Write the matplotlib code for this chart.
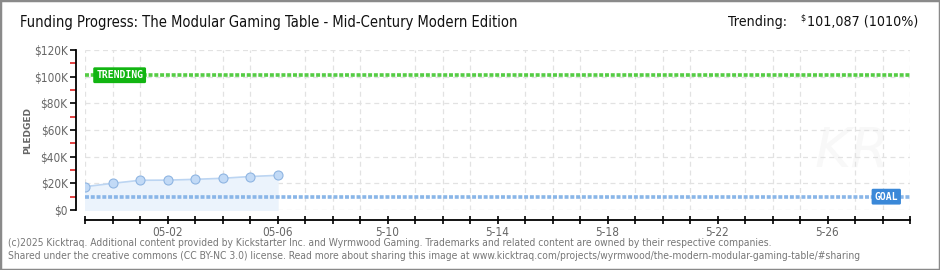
import numpy as np
import matplotlib
matplotlib.use("Agg")
import matplotlib.pyplot as plt
import matplotlib.dates as mdates
from matplotlib import font_manager
from matplotlib.patches import Rectangle
from matplotlib.ticker import MultipleLocator, FuncFormatter, FixedLocator

# datos
fechas = np.arange(np.datetime64("2025-04-29"), np.datetime64("2025-05-07"))
pledged = [17500, 20000, 22300, 22400, 23000, 23800, 25100, 26000]
goal = 10000
trending = 101087
tick_fechas = ["2025-05-02", "2025-05-06", "2025-05-10", "2025-05-14",
               "2025-05-18", "2025-05-22", "2025-05-26"]
tick_labels = ["05-02", "05-06", "5-10", "5-14", "5-18", "5-22", "5-26"]
x_ini, x_fin = np.datetime64("2025-04-29"), np.datetime64("2025-05-29")

titulo = "Funding Progress: The Modular Gaming Table - Mid-Century Modern Edition"
pie1 = ("(c)2025 Kicktraq. Additional content provided by Kickstarter Inc. and Wyrmwood Gaming. "
        "Trademarks and related content are owned by their respective companies.")
pie2 = ("Shared under the creative commons (CC BY-NC 3.0) license. Read more about sharing this image at "
        "www.kicktraq.com/projects/wyrmwood/the-modern-modular-gaming-table/#sharing")

# buscar una fuente estrecha
estirar = "normal"
fuente = ["DejaVu Sans"]
nombres = {f.name for f in font_manager.fontManager.ttflist}
if "Liberation Sans Narrow" in nombres:
    fuente = ["Liberation Sans Narrow", "DejaVu Sans"]
else:
    ruta = font_manager.findfont(font_manager.FontProperties(family="DejaVu Sans", stretch="condensed"))
    if "Condensed" in ruta:
        estirar = "condensed"
escala = 1.0 if (estirar == "condensed" or len(fuente) > 1) else 0.9

gris = "#666666"

fig = plt.figure(figsize=(9.4, 2.7), dpi=100)
fig.patches.append(Rectangle((0, 0), 1, 1, transform=fig.transFigure, fill=False,
                             edgecolor="#8a8a8a", linewidth=2.5))

ax = fig.add_axes([85 / 940, 60 / 270, 825 / 940, 160 / 270])
x = mdates.date2num(fechas.astype(object))
x0 = mdates.date2num(x_ini.astype(object))
x1 = mdates.date2num(x_fin.astype(object))

ax.fill_between(x, 0, pledged, color="#ebf3fc", zorder=1)
ax.plot(x, pledged, color="#bcd5f2", lw=1.2, zorder=3)
ax.plot(x, pledged, "o", ms=6.5, mfc="#c2daf6", mec="#8fb5e2", mew=0.8, zorder=4)

ax.axhline(trending, color="#55cc44", lw=2.6, ls=(0, (1.1, 0.5)), zorder=2)
ax.axhline(goal, color="#8ab6e8", lw=2.6, ls=(0, (1.1, 0.5)), zorder=2)

ax.text(0.0135, trending, "TRENDING", transform=ax.get_yaxis_transform(), color="white",
        fontsize=7, fontweight="bold", family="DejaVu Sans Mono", va="center", ha="left",
        zorder=6, bbox=dict(boxstyle="round,pad=0.3,rounding_size=0.15", fc="#12b512", ec="none"))
ax.text(0.957, goal, "GOAL", transform=ax.get_yaxis_transform(), color="white",
        fontsize=7, fontweight="bold", family="DejaVu Sans Mono", va="center", ha="left",
        zorder=6, bbox=dict(boxstyle="round,pad=0.3,rounding_size=0.15", fc="#3a88d8", ec="none"))

# marca de agua
ax.text(0.975, 0.2, "KR", transform=ax.transAxes, fontsize=40, fontstyle="italic",
        color="#f8f8f8", ha="right", va="bottom", zorder=0.5)

ax.set_xlim(x0, x1)
ax.set_ylim(0, 120000)

ax.xaxis.set_major_locator(FixedLocator(
    [mdates.date2num(np.datetime64(f).astype(object)) for f in tick_fechas]))
ax.xaxis.set_major_formatter(FuncFormatter(
    lambda v, p: tick_labels[p] if p is not None and p < len(tick_labels) else ""))
ax.set_xticks(mdates.date2num(np.arange(x_ini, x_fin + 1).astype(object)), minor=True)
ax.yaxis.set_major_locator(MultipleLocator(20000))
ax.yaxis.set_minor_locator(MultipleLocator(10000))
ax.yaxis.set_major_formatter(FuncFormatter(lambda v, p: "$0" if v == 0 else f"${int(v / 1000)}K"))

ax.grid(which="major", axis="y", color="#e2e2e2", ls=(0, (4, 3)), lw=0.9)
ax.grid(which="minor", axis="x", color="#e2e2e2", ls=(0, (4, 3)), lw=0.9)
ax.set_axisbelow(True)

for s in ["top", "right"]:
    ax.spines[s].set_visible(False)
ax.spines["left"].set_position(("outward", 6.5))
ax.spines["bottom"].set_position(("outward", 7.2))
ax.spines["left"].set_linewidth(1.3)
ax.spines["bottom"].set_linewidth(1.3)

ax.tick_params(axis="y", which="major", length=4, width=1.2, color="black",
               labelsize=8.5, labelcolor=gris, pad=2)
ax.tick_params(axis="y", which="minor", length=4, width=1.2, color="#dd2222")
ax.tick_params(axis="x", which="both", direction="inout", length=6, width=1.2,
               labelsize=8.5, labelcolor=gris, pad=1)
for t in ax.get_xticklabels() + ax.get_yticklabels():
    t.set_family(fuente)
    t.set_fontstretch(estirar)

ax.set_ylabel("PLEDGED", fontsize=6.5, color=gris, fontweight="bold", family="DejaVu Sans")
ax.yaxis.set_label_coords(-0.064, 0.5)

fig.text(20 / 940, 1 - 22 / 270, titulo, fontsize=10.5 * escala, family=fuente, stretch=estirar,
         color="#111111", va="center", ha="left")
t_num = fig.text(918 / 940, 1 - 22 / 270, "101,087 (1010%)", fontsize=10.2 * escala, family=fuente,
                 stretch=estirar, color="#111111", va="center", ha="right")
ax.annotate("$", xy=(0, 0.8), xycoords=t_num, xytext=(-0.5, 0), textcoords="offset points",
            ha="right", va="center", fontsize=6.5 * escala, family=fuente, stretch=estirar,
            color="#111111", annotation_clip=False)
ax.annotate("Trending:", xy=(0, 0.5), xycoords=t_num, xytext=(-14, 0), textcoords="offset points",
            ha="right", va="center", fontsize=10.2 * escala, family=fuente, stretch=estirar,
            color="#111111", annotation_clip=False)

fig.text(8 / 940, 1 - 243 / 270, pie1, fontsize=7.35 * escala, family=fuente, stretch=estirar,
         color="#777777", va="center", ha="left")
fig.text(8 / 940, 1 - 256 / 270, pie2, fontsize=7.35 * escala, family=fuente, stretch=estirar,
         color="#777777", va="center", ha="left")

fig.savefig("out.png", dpi=100)
